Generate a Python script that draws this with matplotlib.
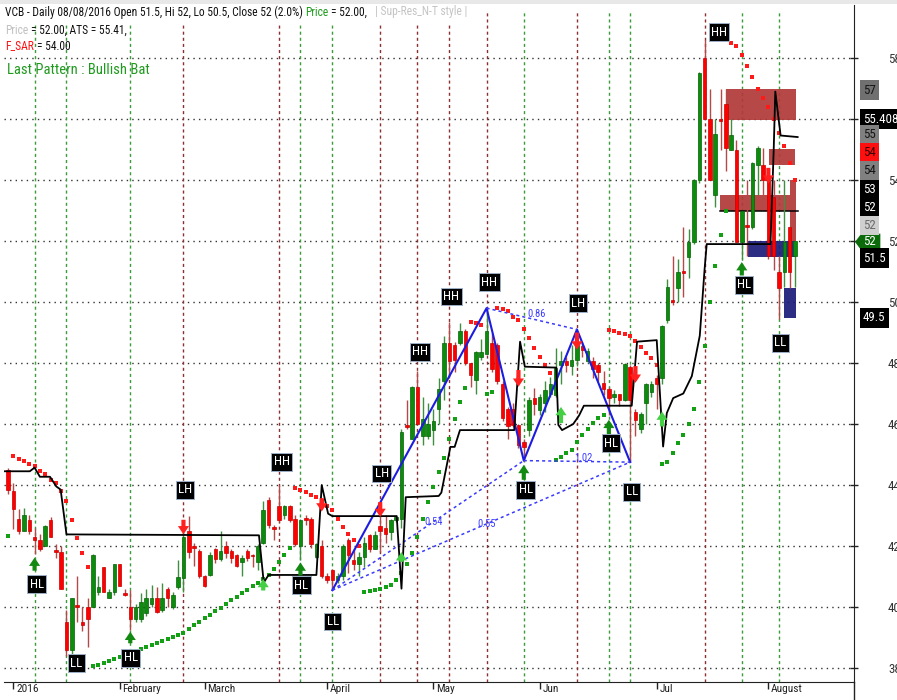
import matplotlib
matplotlib.use("Agg")
import matplotlib.pyplot as plt
import matplotlib.transforms as mtransforms
from matplotlib import font_manager
from matplotlib.patches import Rectangle, Polygon
from matplotlib.lines import Line2D

# ---------------- data ----------------
opens = [44.50, 43.80, 42.90, 42.50, 42.85, 42.30, 42.20, 42.00, 42.85, 41.85,
         41.80, 39.50, 38.60, 40.05, 39.50, 40.00, 40.00, 40.50, 41.30, 40.30,
         40.50, 41.40, 40.45, 40.00, 39.60, 39.60, 39.80, 40.10, 40.30, 39.90,
         40.60, 40.00, 40.67, 40.94, 42.50, 42.00, 41.84, 41.00, 41.05, 41.90,
         41.57, 42.00, 41.84, 41.70, 41.48, 41.84, 41.70, 41.48, 42.09, 43.51,
         42.60, 43.30, 43.00, 43.30, 42.90, 42.00, 42.90, 42.90, 41.65, 42.00,
         41.00, 41.20, 40.90, 41.00, 42.20, 41.55, 41.40, 41.65, 42.35, 41.90,
         42.65, 42.60, 42.45, 42.85, 42.90, 45.95, 45.50, 47.20, 45.60, 45.60,
         45.80, 46.50, 47.40, 48.65, 48.60, 48.65, 49.05, 48.00, 47.45, 48.20,
         48.30, 48.65, 48.60, 47.30, 46.50, 46.50, 45.97, 45.40, 45.80, 46.86,
         46.46, 46.68, 46.97, 46.95, 47.93, 48.07, 47.90, 48.10, 48.55, 48.07,
         48.07, 47.93, 47.36, 47.14, 46.90, 47.00, 46.80, 47.86, 46.40, 45.84,
         46.70, 47.05, 47.50, 47.50, 49.40, 50.05, 50.45, 51.00, 51.48, 51.97,
         54.00, 58.00, 56.00, 53.50, 56.00, 56.50, 54.97, 55.00, 51.98, 52.50,
         52.47, 54.50, 54.50, 54.00, 53.45, 51.00, 51.00, 52.47, 51.50]
highs = [44.55, 44.05, 43.20, 43.25, 43.00, 42.60, 42.40, 42.70, 42.95, 42.05,
         42.00, 39.90, 40.30, 41.00, 40.00, 40.30, 41.75, 41.00, 41.30, 40.60,
         41.40, 41.40, 40.60, 40.55, 40.10, 40.45, 40.60, 40.72, 40.65, 40.80,
         40.65, 40.50, 41.55, 42.45, 42.97, 42.10, 41.90, 41.05, 41.80, 41.95,
         42.49, 42.15, 41.90, 41.75, 41.70, 41.90, 41.75, 42.05, 43.46, 43.60,
         42.70, 44.00, 43.35, 43.35, 43.00, 42.90, 43.00, 42.95, 42.10, 42.20,
         41.10, 41.25, 41.10, 42.05, 42.25, 41.90, 41.80, 42.30, 42.40, 42.50,
         43.45, 43.00, 42.90, 43.00, 45.85, 46.80, 47.25, 47.75, 46.90, 46.70,
         46.50, 47.50, 48.90, 49.35, 48.70, 49.30, 49.10, 48.00, 48.40, 48.80,
         49.80, 49.00, 48.65, 47.40, 46.55, 46.70, 46.00, 45.50, 46.90, 47.18,
         47.00, 47.40, 47.55, 48.48, 48.40, 48.20, 48.60, 49.06, 48.70, 48.50,
         48.20, 48.00, 47.75, 47.20, 47.10, 47.00, 48.00, 47.95, 46.50, 46.40,
         47.35, 47.40, 47.60, 49.25, 50.75, 51.50, 51.40, 52.45, 52.40, 54.05,
         57.55, 58.60, 57.00, 56.00, 57.00, 57.00, 56.00, 55.30, 53.00, 54.00,
         54.60, 55.10, 55.05, 54.10, 54.00, 51.50, 54.00, 52.50, 52.00]
lows = [43.70, 42.55, 42.40, 42.50, 42.40, 41.75, 41.85, 42.00, 42.30, 41.60,
        40.60, 38.40, 38.40, 39.50, 39.20, 38.70, 40.00, 40.40, 40.50, 40.30,
        40.40, 40.70, 40.35, 39.25, 39.50, 39.50, 39.70, 40.00, 39.80, 39.85,
        40.00, 39.95, 40.60, 40.50, 41.60, 41.35, 40.95, 40.65, 41.00, 41.45,
        41.50, 41.60, 41.45, 41.30, 41.00, 41.50, 41.30, 41.20, 42.05, 42.60,
        42.20, 42.80, 42.90, 42.80, 42.00, 41.55, 42.70, 41.95, 41.60, 40.95,
        40.80, 40.55, 40.80, 40.90, 41.10, 41.20, 41.00, 41.30, 41.80, 41.90,
        41.80, 42.10, 42.20, 42.80, 42.60, 45.85, 45.50, 46.00, 45.30, 45.50,
        45.30, 46.00, 46.80, 47.50, 47.70, 48.60, 47.95, 47.20, 47.00, 48.10,
        48.30, 47.70, 47.30, 46.10, 45.50, 45.90, 45.20, 44.80, 45.60, 46.30,
        46.30, 46.40, 46.90, 46.90, 47.30, 47.70, 47.60, 47.90, 48.20, 48.00,
        47.50, 47.40, 46.95, 46.30, 46.70, 46.60, 46.75, 44.75, 45.60, 45.70,
        46.00, 46.90, 46.50, 47.30, 49.30, 49.90, 50.00, 50.15, 50.80, 51.90,
        53.90, 56.00, 54.00, 53.10, 55.00, 54.30, 54.97, 51.97, 51.40, 51.50,
        52.40, 53.50, 53.50, 51.40, 51.05, 49.45, 50.50, 50.45, 50.50]
closes = [43.85, 43.20, 42.50, 43.00, 42.50, 42.20, 41.90, 42.65, 42.30, 41.80,
          40.60, 38.60, 40.30, 40.00, 39.40, 39.60, 41.70, 40.65, 40.50, 40.50,
          41.40, 40.70, 40.40, 39.60, 40.00, 40.15, 40.30, 40.30, 39.85, 40.30,
          40.28, 40.40, 40.97, 42.30, 41.80, 41.95, 41.00, 40.70, 41.70, 41.57,
          41.84, 41.78, 41.60, 41.35, 41.62, 41.62, 41.66, 42.00, 43.19, 42.70,
          42.55, 42.85, 43.30, 42.85, 42.05, 42.85, 42.85, 42.05, 42.05, 41.00,
          40.90, 40.87, 41.00, 42.00, 41.70, 41.40, 41.65, 42.10, 41.90, 42.35,
          42.50, 42.40, 42.85, 42.95, 45.75, 45.90, 47.20, 46.00, 46.15, 46.00,
          46.10, 47.15, 48.65, 48.05, 48.10, 49.05, 48.00, 47.60, 48.35, 48.35,
          49.05, 47.80, 47.40, 46.20, 45.95, 45.97, 45.30, 45.25, 46.80, 46.66,
          46.90, 47.10, 47.30, 47.83, 48.07, 47.93, 48.10, 48.60, 48.42, 48.40,
          47.80, 47.70, 47.14, 46.86, 47.00, 46.80, 47.97, 46.80, 46.13, 46.33,
          47.30, 47.30, 47.30, 49.20, 50.50, 50.00, 51.00, 50.95, 51.97, 54.00,
          57.50, 56.00, 54.00, 55.50, 55.95, 55.05, 55.47, 51.97, 53.00, 52.45,
          54.55, 55.04, 54.00, 51.50, 51.50, 50.45, 51.98, 51.00, 52.00]

# parabolic SAR dots
sar_values = [42.32,
              44.94, 44.86, 44.78, 44.70, 44.62, 44.46, 44.35, 44.18, 44.05, 43.80,
              43.49, 42.86, 42.27, 41.78, 41.32,
              38.05, 38.10, 38.15, 38.22, 38.28, 38.35, 38.42, 38.48, 38.55, 38.62,
              38.68, 38.75, 38.82, 38.88, 38.95, 39.02, 39.08, 39.15, 39.28, 39.40,
              39.52, 39.63, 39.75, 39.87, 39.98, 40.10, 40.22, 40.33, 40.45, 40.57,
              40.68, 40.80, 40.92, 41.05, 41.25, 41.47, 41.70, 41.92,
              43.89, 43.84, 43.78, 43.67, 43.60, 43.47, 43.32, 43.18, 42.90, 42.63,
              42.40, 42.20, 42.00,
              40.50, 40.52, 40.56, 40.59, 40.67, 40.72, 40.89, 41.10, 41.40, 41.76,
              42.30, 42.90, 43.45, 43.95, 44.42, 44.88, 45.50, 46.15, 46.73, 47.19,
              49.35, 49.30, 49.25,
              47.00, 47.06,
              49.80, 49.76, 49.69, 49.52, 49.41, 49.11, 48.81, 48.48, 48.19, 47.92, 47.67,
              44.82, 44.93, 45.04, 45.15, 45.42, 45.64, 45.83, 46.02, 46.19, 46.30,
              49.08, 49.05, 49.00, 48.95, 48.89, 48.73, 48.54, 48.34, 48.15, 47.93,
              44.69, 44.76, 45.06, 45.37, 45.63, 46.00, 46.50, 47.39, 48.55, 49.99,
              51.18, 52.19, 53.00,
              58.50, 58.40, 58.10, 57.74, 57.37, 57.00, 56.68, 56.38, 56.00, 55.55,
              55.10, 54.55, 54.00]
# SAR trend segments: (first bar, last bar, 'up' = green below / 'down' = red above)
sar_segments = [(0, 0, "up"), (1, 15, "down"), (16, 53, "up"), (54, 66, "down"),
                (67, 86, "up"), (87, 89, "down"), (90, 91, "up"), (92, 102, "down"),
                (103, 112, "up"), (113, 122, "down"), (123, 135, "up"), (136, 148, "down")]

# ATS trailing stop (bar position, price)
ats_x = [-0.7, 4.1, 5.0, 6.0, 7.9, 9.1, 9.9, 11.0, 47.2, 48.1, 49.0, 58.0, 59.0, 60.2,
         61.0, 73.1, 74.0, 74.8, 81.0, 81.5, 83.2, 84.0, 85.0, 95.2, 96.3, 97.2, 103.1,
         103.5, 104.2, 106.3, 107.4, 108.3, 117.3, 118.3, 122.0, 123.2, 123.9, 125.1,
         127.0, 128.6, 130.1, 131.0, 131.4, 143.4, 144.0, 144.3, 145.3, 148.5]
ats_y = [44.45, 44.45, 44.57, 44.27, 44.27, 43.95, 43.85, 42.38, 42.35, 40.80, 41.05,
         41.05, 44.00, 43.06, 42.98, 42.98, 40.60, 43.60, 43.64, 43.75, 45.25, 45.25,
         45.80, 45.80, 48.70, 47.88, 47.85, 45.97, 45.80, 46.00, 46.28, 46.60, 46.60,
         48.70, 48.75, 45.26, 46.36, 46.85, 47.00, 47.57, 48.90, 51.07, 51.90, 51.90,
         55.00, 56.90, 55.46, 55.41]

# swing pivots: bar, label, label bar position, label price
pivot_bars = [5, 11, 23, 33, 51, 55, 61, 70, 77, 83, 90, 97, 107, 113, 117, 131, 138, 145]
pivot_names = ["HL", "LL", "HL", "LH", "HH", "HL", "LL", "LH", "HH", "HH", "HH",
               "HL", "LH", "HL", "LL", "HH", "HL", "LL"]
pivot_label_x = [5.4, 12.8, 23.1, 33.3, 51.5, 55.2, 61.1, 70.3, 77.5, 83.4, 90.5,
                 97.4, 107.2, 113.4, 117.3, 133.7, 138.4, 145.2]
pivot_label_y = [40.75, 38.16, 38.33, 43.84, 44.76, 40.72, 39.52, 44.38, 48.37, 50.18,
                 50.65, 43.84, 49.96, 45.37, 43.78, 58.85, 50.56, 48.66]

# HL arrows (bar, tail price, tip price)
hl_arrow_bars = [5, 23, 55, 97, 113, 138]
hl_arrow_tail = [41.19, 38.81, 41.03, 44.17, 45.65, 50.87]
hl_arrow_tip = [41.62, 39.19, 41.46, 44.66, 46.14, 51.31]
# sell arrows (bar, tail, tip)
sell_bars = [33, 59, 70, 96, 107, 118, 143]
sell_tail = [42.86, 43.57, 43.44, 47.77, 49.00, 47.90, 54.40]
sell_tip = [42.38, 43.13, 42.95, 47.22, 48.44, 47.35, 53.88]
# buy arrows (bar, tail, tip)
buy_bars = [48, 74, 104, 123]
buy_tail = [40.54, 41.48, 46.03, 45.92]
buy_tip = [40.92, 41.80, 46.56, 46.41]

# Bullish Bat pattern X, A, B, C, D
bat_x = [61, 90, 97, 107, 117]
bat_y = [40.55, 49.80, 44.80, 49.10, 44.75]
ratio_text = ["0.54", "0.55", "0.86", "1.02"]
ratio_x = [80.0, 90.0, 99.4, 108.3]
ratio_y = [42.80, 42.72, 49.62, 44.88]

# support / resistance zones (bar from, bar to, price low, price high)
zone_x0 = [135.0, 143.1, 133.9, 147.0, 139.1, 145.9]
zone_x1 = [148.2, 148.0, 147.0, 148.1, 148.0, 148.2]
zone_lo = [55.98, 54.48, 52.98, 52.00, 51.47, 49.49]
zone_hi = [57.00, 55.03, 53.50, 54.00, 52.00, 50.47]
zone_kind = ["res", "res", "res", "res", "sup", "sup"]

# month ticks
month_bars = [1, 21, 37, 60, 80, 100, 122, 143]
month_names = ["2016", "February", "March", "April", "May", "Jun", "Jul", "August"]
y_ticks = [38, 40, 42, 44, 46, 48, 50, 52, 54, 56, 58]

# right-hand price tags
tag_text = ["57", "55.4087", "55", "54", "54", "53", "52", "52", "52", "51.5", "49.5"]
tag_price = [56.95, 56.00, 55.48, 54.89, 54.30, 53.70, 53.11, 52.52, 51.97, 51.44, 49.48]
tag_face = ["#707070", "black", "#808080", "#ff1010", "#808080", "black", "black",
            "#cfcfcf", "#0b6b0b", "black", "black"]
tag_color = ["#151515", "white", "#151515", "#3a0000", "#151515", "white", "white",
             "#6a6a6a", "white", "white", "white"]

# header texts: list of (text, colour, spaces before)
header_lines = [
    [("VCB - Daily 08/08/2016 Open 51.5, Hi 52, Lo 50.5, Close 52 (2.0%)", "#111111", 0),
     ("Price", "#1f9a1f", 1), ("= 52.00,", "#111111", 1),
     ("| Sup-Res_N-T style |", "#c4c4c4", 3)],
    [("Price", "#c0c0c0", 0), ("= 52.00, ATS = 55.41,", "#111111", 1)],
    [("F_SAR", "#ff1010", 0), ("= 54.00", "#111111", 1)],
]
pattern_text = "Last Pattern : Bullish Bat"

# ---------------- fonts ----------------
flist = font_manager.fontManager.ttflist
names = {f.name for f in flist}
FONT = "Liberation Sans Narrow" if "Liberation Sans Narrow" in names else "Liberation Sans"
plt.rcParams["font.family"] = [FONT, "DejaVu Sans"]
narrow_found = FONT == "Liberation Sans Narrow"
if not narrow_found:
    for cand in ["Roboto Condensed", "Open Sans Condensed", "Noto Sans Condensed"]:
        if cand in names:
            plt.rcParams["font.family"] = [cand, "DejaVu Sans"]
            narrow_found = True
            break
# when only normal-width faces exist, let text be a little taller than width-fit
GROW = 1.0 if narrow_found else 1.06
SMALL = 9.4 if narrow_found else 8.4

# ---------------- figure ----------------
W, H = 897, 700
fig = plt.figure(figsize=(W / 100, H / 100), dpi=100)
fig.patch.set_facecolor("white")
renderer = fig.canvas.get_renderer()


def twidth(s, size):
    t = fig.text(0, 0, s, fontsize=size)
    w = t.get_window_extent(renderer).width
    t.remove()
    return w


def fit(s, target_px):
    return 10.0 * target_px / twidth(s, 10.0)


fig.add_artist(Rectangle((0, 1 - 4 / H), 1, 4 / H, transform=fig.transFigure,
                         facecolor="#e8e8e8", edgecolor="none", zorder=0))

ax = fig.add_axes([4 / W, 18 / H, 850 / W, 677 / H])
ax.set_xlim(-0.75, 159.1)
ax.set_ylim(37.54, 59.74)
ax.set_facecolor("white")
for s in ["left", "top"]:
    ax.spines[s].set_visible(False)
ax.spines["bottom"].set_color("#222222")
ax.spines["right"].set_color("#222222")
fig.add_artist(Line2D([854 / W, 854 / W], [0, 18 / H], color="#222222", lw=1,
                      transform=fig.transFigure))

# grid
for p in y_ticks:
    ax.axhline(p, color="#333333", lw=1.0, ls=(0, (1, 3)), zorder=1)

# pivot verticals
for b, n in zip(pivot_bars, pivot_names):
    col = "#3c9c3c" if n in ("HL", "LL") else "#8b2f2f"
    ax.axvline(b, ymax=0.992, color=col, lw=1.0, ls=(0, (2.2, 2.2)), zorder=1)

# zones
for x0, x1, lo, hi, k in zip(zone_x0, zone_x1, zone_lo, zone_hi, zone_kind):
    col = "#b03838" if k == "res" else "#1b1b7a"
    ax.add_patch(Rectangle((x0, lo), x1 - x0, hi - lo, facecolor=col, edgecolor="none",
                           alpha=0.92, zorder=3))
ax.plot([133.9, 148.6], [53.0, 53.0], color="black", lw=1.1, zorder=3.5)

# candles
for i, (o, h, l, c) in enumerate(zip(opens, highs, lows, closes)):
    up = c >= o
    wick = "#3f8f3f" if up else "#b54848"
    body = "#0c8c0c" if up else "#ff0000"
    edge = "#066206" if up else "#c80000"
    ax.plot([i, i], [l, h], color=wick, lw=1.0, zorder=4, solid_capstyle="butt")
    bot = min(o, c)
    hgt = max(abs(c - o), 0.06)
    ax.add_patch(Rectangle((i - 0.33, bot), 0.66, hgt, facecolor=body, edgecolor=edge,
                           lw=0.5, zorder=4.5))

# SAR
for a, b, t in sar_segments:
    xs = list(range(a, b + 1))
    ys = sar_values[a:b + 1]
    ax.plot(xs, ys, ls="none", marker="s", ms=2.3, mew=0,
            color="#14a014" if t == "up" else "#ff1a1a", zorder=6)

# ATS
ax.plot(ats_x, ats_y, color="black", lw=1.3, zorder=7)

# Bat pattern
ax.plot(bat_x, bat_y, color="#1c1ce0", lw=1.5, zorder=6.5)
for a, b in [(0, 2), (0, 4), (1, 3), (2, 4)]:
    ax.plot([bat_x[a], bat_x[b]], [bat_y[a], bat_y[b]], color="#3a3aff", lw=1.1,
            ls=(0, (2, 2)), zorder=6.5)
ratio_size = fit("0.86", 18) * GROW
for t, x, y in zip(ratio_text, ratio_x, ratio_y):
    ax.text(x, y, t, color="#3b3bff", fontsize=ratio_size, ha="center", va="center", zorder=7)


# arrows
def arrow(x, y0, y1, col):
    ax.annotate("", xy=(x, y1), xytext=(x, y0),
                arrowprops=dict(arrowstyle="simple,head_width=0.8,head_length=0.6,tail_width=0.3",
                                fc=col, ec="none", lw=0, shrinkA=0, shrinkB=0,
                                mutation_scale=10),
                zorder=8)


for b, t0, t1 in zip(hl_arrow_bars, hl_arrow_tail, hl_arrow_tip):
    arrow(b, t0, t1, "#128a12")
for b, t0, t1 in zip(sell_bars, sell_tail, sell_tip):
    arrow(b, t0, t1, "#ff2020")
for b, t0, t1 in zip(buy_bars, buy_tail, buy_tip):
    arrow(b, t0, t1, "#45cf45")

# pivot labels
for n, x, y in zip(pivot_names, pivot_label_x, pivot_label_y):
    ax.text(x, y, n, color="white", fontsize=SMALL, ha="center", va="center", zorder=9,
            bbox=dict(boxstyle="square,pad=0.18", fc="black", ec="#9db0c8", lw=0.7))

# axes ticks
ax.set_xticks(month_bars)
ax.tick_params(axis="x", direction="out", length=5, width=1, color="#222222",
               labelbottom=False)
month_size = fit("February", 39) * GROW
for b, n in zip(month_bars, month_names):
    ax.annotate(n, xy=(b, 0), xycoords=("data", "axes fraction"), xytext=(2, -1.5),
                textcoords="offset points", ha="left", va="top", fontsize=month_size,
                color="#222222", annotation_clip=False)
ax.yaxis.tick_right()
ax.set_yticks(y_ticks)
ax.set_yticklabels([str(v) for v in y_ticks])
ax.tick_params(axis="y", direction="inout", length=6, width=1, color="#222222",
               pad=21.5, labelsize=SMALL, labelcolor="#333333")

# price tags at right
tr = mtransforms.blended_transform_factory(ax.transAxes, ax.transData)
for t, p, f, c in zip(tag_text, tag_price, tag_face, tag_color):
    if f == "#0b6b0b":
        ax.add_patch(Polygon([(1.0012, p), (1.0085, p + 0.27), (1.031, p + 0.27),
                              (1.031, p - 0.27), (1.0085, p - 0.27)], closed=True,
                             transform=tr, facecolor=f, edgecolor="none", clip_on=False,
                             zorder=10))
        ax.text(1.0105, p, t, transform=tr, color=c, fontsize=SMALL, ha="left",
                va="center", clip_on=False, zorder=11)
    else:
        ax.text(1.0105, p, t, transform=tr, color=c, fontsize=SMALL, ha="left",
                va="center", clip_on=False, zorder=11,
                bbox=dict(boxstyle="square,pad=0.24", fc=f, ec="none"))

# header (white band behind first line hides the dashed verticals)
fig.add_artist(Rectangle((0, 1 - 23 / H), 472 / W, 19 / H, transform=fig.transFigure,
                         facecolor="white", edgecolor="none", zorder=2))

head_size = fit(header_lines[0][0][0], 298) * GROW
line_y = [12, 30, 46]
for parts, yy in zip(header_lines, line_y):
    x = 5.0
    space = twidth("x x", head_size) - twidth("xx", head_size)
    for txt, col, nsp in parts:
        x += nsp * space
        t = fig.text(x / W, 1 - yy / H, txt, color=col, fontsize=head_size,
                     ha="left", va="center", zorder=5)
        x += t.get_window_extent(renderer).width

fig.text(7 / W, 1 - 70 / H, pattern_text, color="#1f9a1f",
         fontsize=fit(pattern_text, 141) * GROW, ha="left", va="center", zorder=5)

fig.savefig("out.png", dpi=100)
